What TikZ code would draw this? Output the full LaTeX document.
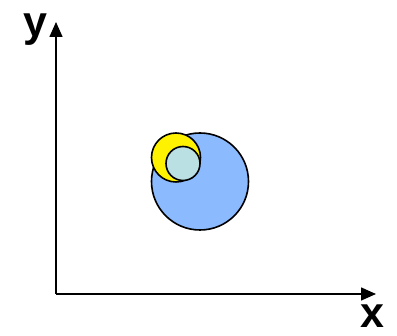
\documentclass[tikz,border=0pt]{standalone}
\usepackage{fontspec}
\setmainfont{Liberation Sans}
\usetikzlibrary{arrows.meta}
\definecolor{bigblue}{RGB}{140,186,255}
\definecolor{smallblue}{RGB}{187,224,227}
\tikzset{
  axis/.style={line width=1.5pt,-{Triangle[length=15pt,width=13pt]}},
  disc/.style={circle,draw=black,line width=1.6pt,inner sep=0pt},
  axlabel/.style={font=\fontsize{43}{43}\selectfont\bfseries,inner sep=0pt}
}
\begin{document}
\begin{tikzpicture}[x=1pt,y=-1pt]
\useasboundingbox (0,0) rectangle (397,336);
\coordinate (o) at (56,294);
\coordinate (ytip) at (56,22);
\coordinate (xtip) at (376,294);
\draw[axis] (o) -- (ytip);
\draw[axis] (o) -- (xtip);
\node[axlabel,anchor=base] (ylab) at (35,37) {y};
\node[axlabel,anchor=base] (xlab) at (372,328) {x};
\node[disc,fill=bigblue,minimum size=97pt] (big) at (200,181.5) {};
\node[disc,fill=yellow,minimum size=49pt] (yel) at (176,157.5) {};
\node[disc,fill=smallblue,minimum size=34pt] (small) at (183,163.5) {};
\end{tikzpicture}
\end{document}
